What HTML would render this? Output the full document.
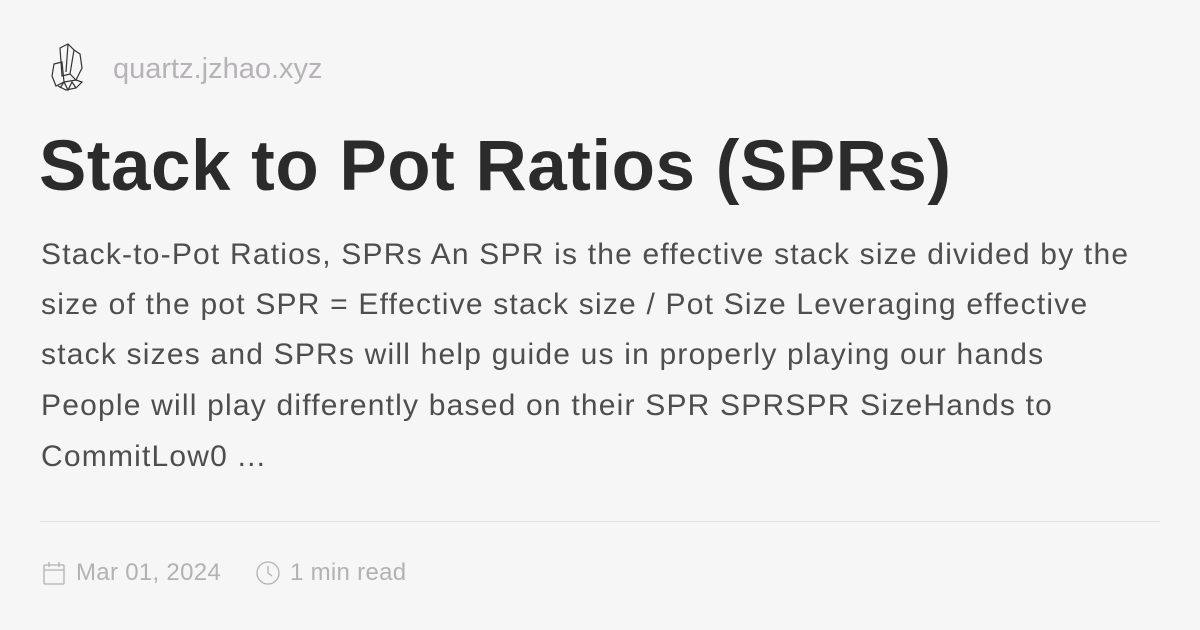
<!DOCTYPE html>
<html><head><meta charset="utf-8"><style>
body{margin:0;width:1200px;height:630px;background:#f7f6f7;font-family:"Liberation Sans",sans-serif;overflow:hidden;position:relative}
.abs{position:absolute;white-space:nowrap}
#site{left:113px;top:53px;font-size:29px;color:#b5b3b5}
#title{left:39px;top:126px;font-size:71px;font-weight:bold;color:#2b2b2b;letter-spacing:0.5px}
.line{left:41px;font-size:30px;color:#4e4e4e;letter-spacing:1.2px}
#hr{left:40px;top:521px;width:1120px;height:1px;background:#e3e2e3}
.meta{top:559px;font-size:24px;color:#b3b1b3;letter-spacing:0.3px}
</style></head><body>
<svg class="abs" style="left:48px;top:42px" width="40" height="52" viewBox="0 0 40 52" fill="none" stroke="#333" stroke-width="1.2">
<path d="M12 6 L20 2 L26 8 L22 32 L14 34 Z"/><path d="M20 2 L18 30"/><path d="M26 8 L32 12 L34 26 L28 38 L22 32"/><path d="M6 22 L14 20 L16 40 L8 44 L4 34 Z"/><path d="M10 44 L18 48 L28 46 L34 40 L28 38 L16 40"/><path d="M12 46 L16 40 L20 48 L24 40 L28 46"/>
</svg>
<div class="abs" id="site">quartz.jzhao.xyz</div>
<div class="abs" id="title">Stack to Pot Ratios (SPRs)</div>
<div>
<div class="abs line" style="top:238px">Stack-to-Pot Ratios, SPRs An SPR is the effective stack size divided by the</div>
<div class="abs line" style="top:288px">size of the pot SPR = Effective stack size / Pot Size Leveraging effective</div>
<div class="abs line" style="top:338px">stack sizes and SPRs will help guide us in properly playing our hands</div>
<div class="abs line" style="top:389px">People will play differently based on their SPR SPRSPR SizeHands to</div>
<div class="abs line" style="top:440px">CommitLow0 ...</div>
</div>
<div class="abs" id="hr"></div>
<svg class="abs" style="left:42px;top:561px" width="24" height="24" viewBox="0 0 24 24" fill="none" stroke="#b3b1b3" stroke-width="1.3"><rect x="2" y="4" width="20" height="19" rx="1"/><path d="M2 9 H22 M7 1 V6 M17 1 V6"/></svg>
<div class="abs meta" style="left:76px">Mar 01, 2024</div>
<svg class="abs" style="left:256px;top:561px" width="24" height="24" viewBox="0 0 24 24" fill="none" stroke="#b3b1b3" stroke-width="1.3"><circle cx="12" cy="12" r="11"/><path d="M12 5 V12 L16 15"/></svg>
<div class="abs meta" style="left:290px">1 min read</div>
</body></html>
